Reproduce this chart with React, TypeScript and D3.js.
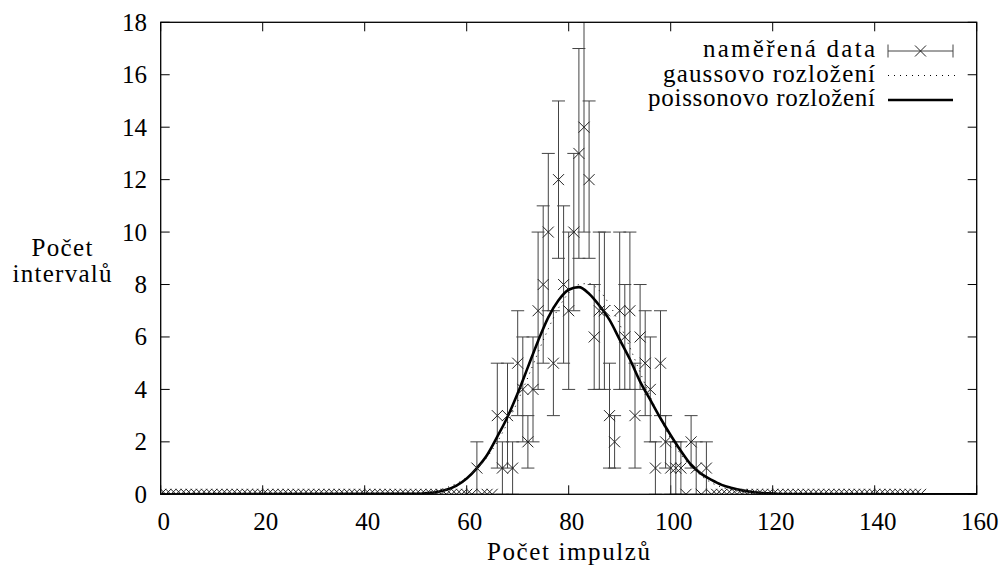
import React from "react";
import * as d3 from "d3";

// x categories: number of impulses per interval (0..149)
const impulses: number[] = d3.range(0, 150);

// measured counts (Počet intervalů) for each x in impulses
const counts: number[] = [
  0, 0, 0, 0, 0, 0, 0, 0, 0, 0,
  0, 0, 0, 0, 0, 0, 0, 0, 0, 0,
  0, 0, 0, 0, 0, 0, 0, 0, 0, 0,
  0, 0, 0, 0, 0, 0, 0, 0, 0, 0,
  0, 0, 0, 0, 0, 0, 0, 0, 0, 0,
  0, 0, 0, 0, 0, 0, 0, 0, 0, 0,
  0, 0, 1, 0, 0, 0, 3, 1, 3, 1,
  5, 4, 2, 4, 7, 8, 10, 5, 12, 8,
  7, 10, 13, 14, 12, 6, 7, 7, 3, 2,
  7, 6, 7, 3, 6, 5, 4, 1, 5, 2,
  1, 1, 1, 0, 2, 1, 0, 1, 0, 0,
  0, 0, 0, 0, 0, 0, 0, 0, 0, 0,
  0, 0, 0, 0, 0, 0, 0, 0, 0, 0,
  0, 0, 0, 0, 0, 0, 0, 0, 0, 0,
  0, 0, 0, 0, 0, 0, 0, 0, 0, 0,
];

// error bar half-lengths
const errors: number[] = [
  0, 0, 0, 0, 0, 0, 0, 0, 0, 0,
  0, 0, 0, 0, 0, 0, 0, 0, 0, 0,
  0, 0, 0, 0, 0, 0, 0, 0, 0, 0,
  0, 0, 0, 0, 0, 0, 0, 0, 0, 0,
  0, 0, 0, 0, 0, 0, 0, 0, 0, 0,
  0, 0, 0, 0, 0, 0, 0, 0, 0, 0,
  0, 0, 1, 0, 0, 0, 2, 1, 2, 1,
  2, 2, 1, 2, 3, 3, 3, 2, 3, 3,
  3, 3, 4, 4, 3, 2, 3, 3, 2, 1,
  3, 2, 3, 2, 2, 2, 2, 1, 2, 1,
  1, 1, 1, 0, 1, 1, 0, 1, 0, 0,
  0, 0, 0, 0, 0, 0, 0, 0, 0, 0,
  0, 0, 0, 0, 0, 0, 0, 0, 0, 0,
  0, 0, 0, 0, 0, 0, 0, 0, 0, 0,
  0, 0, 0, 0, 0, 0, 0, 0, 0, 0,
];

// curve sample positions and values
const curveX: number[] = [
  0, 50, 52, 54, 56, 58, 60, 62, 64, 66, 68, 70, 72, 74, 76, 78, 80, 82, 84, 86,
  88, 90, 92, 94, 96, 98, 100, 102, 104, 106, 108, 110, 112, 114, 116, 118, 120, 122, 160,
];
const poissonY: number[] = [
  0, 0.02, 0.04, 0.08, 0.17, 0.33, 0.6, 1.0, 1.5, 2.2, 2.95, 3.85, 4.85, 5.85, 6.75, 7.4, 7.8, 7.9, 7.65, 7.2,
  6.65, 5.9, 5.15, 4.3, 3.6, 2.9, 2.25, 1.65, 1.12, 0.78, 0.55, 0.36, 0.24, 0.15, 0.09, 0.05, 0.03, 0.01, 0,
];
const gaussY: number[] = [
  0, 0.045, 0.08, 0.145, 0.25, 0.41, 0.64, 0.97, 1.42, 2.0, 2.72, 3.55, 4.46, 5.41, 6.31, 7.1, 7.68, 8.0, 8.04, 7.77,
  7.23, 6.48, 5.6, 4.65, 3.72, 2.87, 2.13, 1.52, 1.05, 0.7, 0.44, 0.27, 0.16, 0.09, 0.05, 0.027, 0.014, 0.005, 0,
];

const xTicks: number[] = [0, 20, 40, 60, 80, 100, 120, 140, 160];
const yTicks: number[] = [0, 2, 4, 6, 8, 10, 12, 14, 16, 18];

const legendLabels: string[] = ["naměřená data", "gaussovo rozložení", "poissonovo rozložení"];
const legendWidths: number[] = [172, 212, 227];
const xTitle = "Počet impulzů";
const yTitleLines: string[] = ["Počet", "intervalů"];
const yTitleWidths: number[] = [61, 99];

const FONT = '"Liberation Serif", "DejaVu Serif", "Noto Serif", serif';

export default function App() {
  const W = 1005;
  const H = 574;
  const left = 160.7, right = 976.7, top = 22.3, bottom = 494.3;
  const x = d3.scaleLinear().domain([0, 160]).range([left, right]);
  const y = d3.scaleLinear().domain([0, 18]).range([bottom, top]);

  const mk = (vals: number[]) =>
    d3
      .line<number>()
      .x((_, i) => x(curveX[i]))
      .y((d) => y(d))
      .curve(d3.curveMonotoneX)(vals) || "";
  const poissonPath = mk(poissonY);
  const gaussPath = mk(gaussY);

  const tick = 9;
  const cross = 5.5;
  const cap = 6.5;
  const fs = 25;
  const ts: React.CSSProperties = { fontFamily: FONT, fontSize: fs };

  const cx = (px: number, py: number, key: string, color = "#222") => (
    <g key={key} stroke={color} strokeWidth={1}>
      <line x1={px - cross} y1={py - cross} x2={px + cross} y2={py + cross} />
      <line x1={px - cross} y1={py + cross} x2={px + cross} y2={py - cross} />
    </g>
  );

  const legTextX = 875;
  const legY = [51, 75.5, 100];
  const sx0 = 888, sx1 = 953;

  return (
    <svg
      width={W}
      height={H}
      style={{ position: "absolute", left: 0, top: 0, background: "#fff" }}
    >
      <defs>
        <clipPath id="plot">
          <rect x={left} y={top} width={right - left} height={bottom - top} />
        </clipPath>
      </defs>
      <rect x={0} y={0} width={W} height={H} fill="#fff" />

      {/* ticks */}
      <g stroke="#000" strokeWidth={1}>
        {xTicks.map((t) => (
          <g key={"xt" + t}>
            <line x1={x(t)} x2={x(t)} y1={bottom} y2={bottom - tick} />
            <line x1={x(t)} x2={x(t)} y1={top} y2={top + tick} />
          </g>
        ))}
        {yTicks.map((t) => (
          <g key={"yt" + t}>
            <line x1={left} x2={left + tick} y1={y(t)} y2={y(t)} />
            <line x1={right} x2={right - tick} y1={y(t)} y2={y(t)} />
          </g>
        ))}
      </g>

      {/* tick labels */}
      <g fill="#000">
        {xTicks.map((t) => (
          <text key={"xl" + t} x={x(t) + 3} y={530} textAnchor="middle" style={ts}>
            {t}
          </text>
        ))}
        {yTicks.map((t) => (
          <text key={"yl" + t} x={147} y={y(t) + 8.5} textAnchor="end" style={ts}>
            {t}
          </text>
        ))}
      </g>

      {/* axis titles */}
      <text x={487} y={560} textLength={163} lengthAdjust="spacing" style={ts}>
        {xTitle}
      </text>
      {yTitleLines.map((s, i) => (
        <text
          key={s}
          x={62 - yTitleWidths[i] / 2}
          y={256 + i * 26}
          textLength={yTitleWidths[i]}
          lengthAdjust="spacing"
          style={ts}
        >
          {s}
        </text>
      ))}

      <g clipPath="url(#plot)">
        {/* error bars */}
        <g stroke="#444" strokeWidth={1}>
          {impulses.map((u, i) => {
            const e = errors[i];
            if (!e) return null;
            const px = x(u);
            const lo = y(counts[i] - e);
            const hi = y(counts[i] + e);
            return (
              <g key={"eb" + u}>
                <line x1={px} x2={px} y1={lo} y2={hi} />
                <line x1={px - cap} x2={px + cap} y1={lo} y2={lo} />
                <line x1={px - cap} x2={px + cap} y1={hi} y2={hi} />
              </g>
            );
          })}
        </g>
        {/* gaussian (dotted) */}
        <path d={gaussPath} fill="none" stroke="#000" strokeWidth={1} strokeDasharray="1 5" />
        {/* poisson (solid) */}
        <path d={poissonPath} fill="none" stroke="#000" strokeWidth={2.6} />
        {/* markers */}
        {impulses.map((u, i) => cx(x(u), y(counts[i]), "m" + u))}
      </g>

      {/* frame */}
      <rect
        x={left}
        y={top}
        width={right - left}
        height={bottom - top}
        fill="none"
        stroke="#000"
        strokeWidth={1.3}
      />

      {/* legend */}
      <g fill="#000">
        {legendLabels.map((s, i) => (
          <text
            key={s}
            x={legTextX - legendWidths[i]}
            y={legY[i] + 6}
            textLength={legendWidths[i]}
            lengthAdjust="spacing"
            style={ts}
          >
            {s}
          </text>
        ))}
      </g>
      <g stroke="#444" strokeWidth={1}>
        <line x1={sx0} x2={sx1} y1={legY[0]} y2={legY[0]} />
        <line x1={sx0} x2={sx0} y1={legY[0] - cap} y2={legY[0] + cap} />
        <line x1={sx1} x2={sx1} y1={legY[0] - cap} y2={legY[0] + cap} />
      </g>
      {cx((sx0 + sx1) / 2, legY[0], "legx")}
      <line x1={sx0} x2={sx1 + 5} y1={legY[1]} y2={legY[1]} stroke="#000" strokeWidth={1} strokeDasharray="1 5" />
      <line x1={sx0} x2={sx1} y1={legY[2]} y2={legY[2]} stroke="#000" strokeWidth={2.6} />
    </svg>
  );
}
